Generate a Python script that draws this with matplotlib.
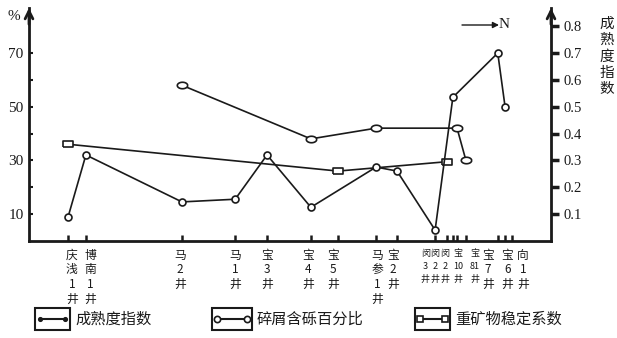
import numpy as np
import matplotlib.pyplot as plt
from matplotlib.patches import Rectangle
from matplotlib.lines import Line2D

plt.rcParams['font.family'] = ['Noto Sans CJK SC', 'DejaVu Sans']

# wells along the section (relative distance, S -> N)
wells = ["庆\n浅\n1\n井", "博\n南\n1\n井", "马\n2\n井", "马\n1\n井", "宝\n3\n井",
         "宝\n4\n井", "宝\n5\n井", "马\n参\n1\n井", "宝\n2\n井", "闵\n3\n井",
         "闵\n2\n井", "闵\n2\n井", "宝\n10\n井", "宝\n81\n井", "宝\n7\n井",
         "宝\n6\n井", "向\n1\n井"]
well_x = [7.5, 10.9, 29.3, 39.5, 45.6, 54.0, 59.2, 66.5, 70.5, 77.8,
          80.1, 81.2, 82.0, 83.7, 89.8, 91.2, 92.5]

# 成熟度指数 (right axis)
maturity_idx = [0, 1, 2, 3, 4, 5, 7, 8, 9, 11, 14, 15]
maturity = [0.09, 0.32, 0.145, 0.155, 0.32, 0.125, 0.275, 0.26, 0.04, 0.535, 0.70, 0.50]

# 碎屑含砾百分比 (%)
gravel_idx = [2, 5, 7, 12, 13]
gravel = [58, 38, 42, 42, 30]

# 重矿物稳定系数
heavy_idx = [0, 6, 10]
heavy = [36, 26, 29.5]

W, H = 617, 338
ink = '#1a1a1a'
serif = 'Liberation Serif'

fig = plt.figure(figsize=(W / 100, H / 100), dpi=100)
ax = fig.add_axes([29 / W, 1 - 240.8 / H, 522 / W, 232.8 / H])
ax2 = ax.twinx()
ax.set_xlim(0, 100)
ax.set_ylim(0, 86.8)
ax2.set_ylim(0, 0.868)

ell = [(1.6 * np.cos(t), np.sin(t)) for t in np.linspace(0, 2 * np.pi, 30)]
rect = [(-1.6, -1), (1.6, -1), (1.6, 1), (-1.6, 1), (-1.6, -1)]

ax2.plot([well_x[i] for i in maturity_idx], maturity, color=ink, lw=1.2,
         marker='o', ms=5, mfc='white', mec=ink, mew=1.2)
ax.plot([well_x[i] for i in gravel_idx], gravel, color=ink, lw=1.2,
        marker=ell, ms=7.5, mfc='white', mec=ink, mew=1.2)
ax.plot([well_x[i] for i in heavy_idx], heavy, color=ink, lw=1.2,
        marker=rect, ms=7.5, mfc='white', mec=ink, mew=1.2)

for a in (ax, ax2):
    a.spines['top'].set_visible(False)
    a.spines['left'].set_visible(a is ax)
    a.spines['right'].set_visible(a is ax2)
    a.spines['bottom'].set_visible(a is ax)
    for s in a.spines.values():
        s.set_linewidth(2)
        s.set_color(ink)

ax.set_yticks([10, 30, 50, 70])
ax.set_yticks([20, 40, 60], minor=True)
ax.tick_params(axis='y', which='both', direction='in', length=3, width=1.5, pad=4,
               labelsize=11, colors=ink)
for t in ax.get_yticklabels():
    t.set_family(serif)
ax.set_xticks(well_x)
ax.set_xticklabels([])
ax.tick_params(axis='x', direction='in', length=4, width=1.8, colors=ink)

ax2.set_yticks([0.1, 0.2, 0.3, 0.4, 0.5, 0.6, 0.7, 0.8])
ax2.set_yticklabels(['0.1', '0.2', '0.3', '0.4', '0.5', '0.6', '0.7', '0.8'])
ax2.tick_params(axis='y', direction='out', length=6, width=2.5, pad=3,
                labelsize=10.5, colors=ink)
for t in ax2.get_yticklabels():
    t.set_family(serif)

# axis arrows
for xf in (0, 1):
    ax.annotate('', xy=(xf, 1.0), xytext=(xf, 0.93), xycoords='axes fraction',
                arrowprops=dict(arrowstyle='->', lw=2, color=ink, mutation_scale=14,
                                shrinkA=0, shrinkB=0))

fig.text(8 / W, 1 - 16 / H, '%', family=serif, fontsize=11, va='center', color=ink)
fig.text(607 / W, 1 - 17 / H, '成\n熟\n度\n指\n数', fontsize=10.5, ha='center',
         va='top', linespacing=1.2, color=ink)
ax.annotate('', xy=(499 / W, 1 - 25 / H), xytext=(462 / W, 1 - 25 / H),
            xycoords='figure fraction',
            arrowprops=dict(arrowstyle='-|>', lw=1.0, color=ink, mutation_scale=9,
                            shrinkA=0, shrinkB=0))
fig.text(499 / W, 1 - 25 / H, 'N', family=serif, fontsize=11, va='center', color=ink)

# well labels under the axis
label_x = [8.2, 11.7, 28.9, 39.5, 45.6, 53.4, 58.2, 66.7, 69.7, 75.9, 77.8,
           79.7, 82.2, 85.4, 87.9, 91.6, 94.6]
xt = ax.get_xaxis_transform()
for i, (lx, name) in enumerate(zip(label_x, wells)):
    small = 9 <= i <= 13
    ax.text(lx, -0.035, name, transform=xt, ha='center', va='top',
            fontsize=6.5 if small else 8.5, linespacing=1.55 if small else 1.15,
            color=ink)

# legend boxes
items = [(35, 75, '成熟度指数', 'o', 2.5, ink),
         (212, 257, '碎屑含砾百分比', 'o', 4.5, 'white'),
         (415, 455, '重矿物稳定系数', 's', 4.5, 'white')]
for x0, tx, lab, mk, ms, fc in items:
    bw = tx - x0 - 5
    fig.patches.append(Rectangle((x0 / W, 1 - 330 / H), bw / W, 22 / H, fill=False,
                                 lw=1.5, ec=ink, transform=fig.transFigure))
    fig.lines.append(Line2D([(x0 + 5) / W, (x0 + bw - 5) / W], [1 - 319 / H] * 2,
                            transform=fig.transFigure, color=ink, lw=1.5,
                            marker=mk, ms=ms, mfc=fc, mec=ink, mew=1.2))
    fig.text(tx / W, 1 - 319 / H, lab, fontsize=11, va='center', color=ink)

fig.savefig('out.png', dpi=100)
